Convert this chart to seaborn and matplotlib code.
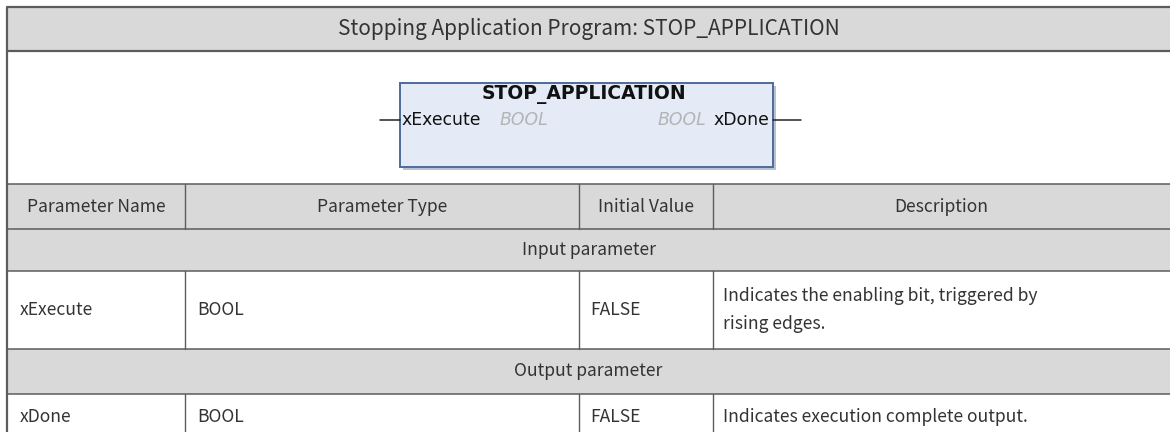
import matplotlib

matplotlib.use("Agg")
import matplotlib.pyplot as plt
import matplotlib.patches as patches
import seaborn as sns

# table content
title = "Stopping Application Program: STOP_APPLICATION"
headers = ["Parameter Name", "Parameter Type", "Initial Value", "Description"]
sections = ["Input parameter", "Output parameter"]
param_names = ["xExecute", "xDone"]
param_types = ["BOOL", "BOOL"]
initial_values = ["FALSE", "FALSE"]
descriptions = ["Indicates the enabling bit, triggered by\nrising edges.",
                "Indicates execution complete output."]

# function block
block_name = "STOP_APPLICATION"
block_input = ("xExecute", "BOOL")
block_output = ("xDone", "BOOL")

W, H = 1170, 432
col_x = [7, 185, 579, 713, 1176]
row_y = [7, 51, 184, 229, 271, 349, 394, 442]

HEAD_BG = "#d9d9d9"
LINE = "#5c5c5c"
TXT = "#333333"
FONT = ["Noto Sans CJK SC", "DejaVu Sans"]
FS = 12.6


def main():
    sns.set_theme(style="white")
    plt.rcParams["font.family"] = FONT
    fig = plt.figure(figsize=(W / 100, H / 100), dpi=100)
    ax = fig.add_axes([0, 0, 1, 1])
    ax.set_xlim(0, W)
    ax.set_ylim(H, 0)
    ax.axis("off")

    full = (col_x[0], col_x[-1])
    shaded = [0, 2, 3, 5]
    for i in range(len(row_y) - 1):
        y0, y1 = row_y[i], row_y[i + 1]
        color = HEAD_BG if i in shaded else "white"
        ax.add_patch(patches.Rectangle((full[0], y0), full[1] - full[0], y1 - y0,
                                       facecolor=color, edgecolor="none", zorder=0))
    # grid lines
    for i, y in enumerate(row_y):
        lw = 1.6 if i in (0, 1) else 1.1
        ax.plot(full, [y, y], color=LINE, lw=lw, zorder=3, solid_capstyle="butt")
    ax.plot([col_x[0], col_x[0]], [row_y[0], row_y[-1]], color=LINE, lw=1.6, zorder=3)
    for r in (2, 4, 6):
        for x in col_x[1:-1]:
            ax.plot([x, x], [row_y[r], row_y[r + 1]], color=LINE, lw=1.0, zorder=3)

    cx = (col_x[0] + 1170) / 2
    ax.text(cx, (row_y[0] + row_y[1]) / 2, title, ha="center", va="center",
            fontsize=15, color=TXT)
    for j, h in enumerate(headers):
        ax.text((col_x[j] + col_x[j + 1]) / 2 if j < 3 else (col_x[3] + 1170) / 2,
                (row_y[2] + row_y[3]) / 2, h, ha="center", va="center",
                fontsize=FS, color=TXT)
    for k, s in enumerate(sections):
        r = 3 + 2 * k
        ax.text(cx, (row_y[r] + row_y[r + 1]) / 2, s, ha="center", va="center",
                fontsize=FS, color=TXT)
    data_rows = [4, 6]
    for k in range(len(param_names)):
        r = data_rows[k]
        yc = (row_y[r] + row_y[r + 1]) / 2 if r != 6 else 417
        vals = [param_names[k], param_types[k], initial_values[k], descriptions[k]]
        pads = [13, 12, 11, 10]
        for j, v in enumerate(vals):
            ax.text(col_x[j] + pads[j], yc, v, ha="left", va="center",
                    fontsize=FS, color=TXT, linespacing=1.65)

    # function block picture
    bx0, by0, bx1, by1 = 400, 83, 773, 167
    ax.add_patch(patches.Rectangle((bx0 + 3, by0 + 3), bx1 - bx0, by1 - by0,
                                   facecolor="#b8c2d0", edgecolor="none", zorder=1))
    ax.add_patch(patches.Rectangle((bx0, by0), bx1 - bx0, by1 - by0,
                                   facecolor="#e4ebf6", edgecolor="#4e6b9a", lw=1.4, zorder=2))
    pin_y = 120
    ax.plot([380, bx0], [pin_y, pin_y], color="#222222", lw=1.1, zorder=2)
    ax.plot([bx1, 801], [pin_y, pin_y], color="#222222", lw=1.1, zorder=2)
    bf = ["DejaVu Sans"]
    ax.text(584, 95, block_name, ha="center", va="center",
            fontsize=13.5, fontweight="bold", color="#111111", family=bf)
    ax.text(bx0 + 2, pin_y, block_input[0], ha="left", va="center",
            fontsize=12.4, color="#111111", family=bf)
    ax.text(500, pin_y, block_input[1], ha="left", va="center",
            fontsize=12.4, color="#b4b4b4", style="italic", family=bf)
    ax.text(769, pin_y, block_output[0], ha="right", va="center",
            fontsize=12.4, color="#111111", family=bf)
    ax.text(706, pin_y, block_output[1], ha="right", va="center",
            fontsize=12.4, color="#b4b4b4", style="italic", family=bf)

    fig.savefig("out.png", dpi=100)


if __name__ == "__main__":
    main()
